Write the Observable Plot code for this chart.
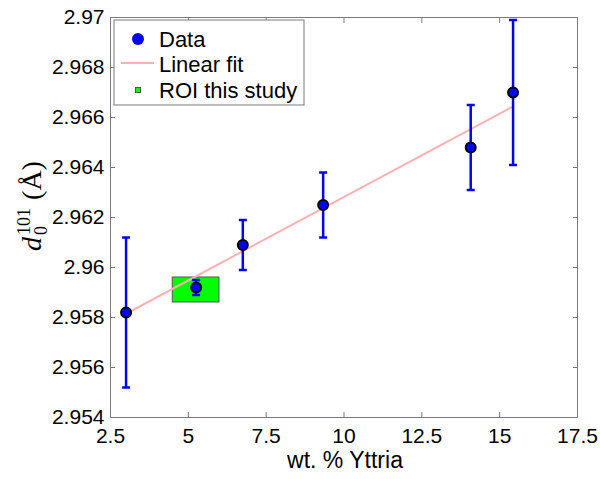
<!DOCTYPE html>
<html>
<head>
<meta charset="utf-8">
<script src="https://cdn.jsdelivr.net/npm/d3@7"></script>
<script src="https://cdn.jsdelivr.net/npm/@observablehq/plot@0.6"></script>
<style>
  html, body { margin: 0; padding: 0; background: white; }
  #chart { width: 600px; height: 479px; }
</style>
</head>
<body>
<div id="chart"></div>
<script>
// ---- data ----
const wtYttria = [3.0, 5.25, 6.75, 9.33, 14.07, 15.43];
const d0 = [2.9582, 2.9592, 2.9609, 2.9625, 2.9648, 2.9670];
const errLow = [2.9552, 2.9589, 2.9599, 2.9612, 2.9631, 2.9641];
const errHigh = [2.9612, 2.9595, 2.9619, 2.9638, 2.9665, 2.9699];
const fitX = [3.0, 15.43];
const fitY = [2.95815, 2.96644];
const roiX = [4.5, 6.0];
const roiY = [2.9586, 2.9596];
const xTicks = [2.5, 5, 7.5, 10, 12.5, 15, 17.5];
const yTicks = [2.954, 2.956, 2.958, 2.96, 2.962, 2.964, 2.966, 2.968, 2.97];
const legendLabels = ["Data", "Linear fit", "ROI this study"];
const xTitle = "wt. % Yttria";

const data = wtYttria.map((x, i) => ({x, y: d0[i], lo: errLow[i], hi: errHigh[i]}));
const fit = fitX.map((x, i) => ({x, y: fitY[i]}));
const roi = [{x1: roiX[0], x2: roiX[1], y1: roiY[0], y2: roiY[1]}];

const capSymbol = {draw(ctx) { ctx.moveTo(-4, 0); ctx.lineTo(4, 0); }};
const sans = "'Liberation Sans', Arial, Helvetica, sans-serif";
const axisGray = "#7a7a7a";

const plot = Plot.plot({
  width: 600,
  height: 479,
  marginLeft: 110,
  marginRight: 23,
  marginTop: 17,
  marginBottom: 62,
  style: {fontFamily: sans, fontSize: "21px", background: "white", color: "black", overflow: "visible"},
  x: {domain: [2.5, 17.5]},
  y: {domain: [2.954, 2.97]},
  marks: [
    Plot.rect(roi, {x1: "x1", x2: "x2", y1: "y1", y2: "y2", fill: "#00ff00", stroke: "#555555", strokeWidth: 1}),
    Plot.line(fit, {x: "x", y: "y", stroke: "#ffb0b0", strokeWidth: 2}),
    Plot.ruleX(data, {x: "x", y1: "lo", y2: "hi", stroke: "#0000ff", strokeWidth: 2.5}),
    Plot.dot(data, {x: "x", y: "lo", symbol: capSymbol, fill: "none", stroke: "#0000ff", strokeWidth: 2.5}),
    Plot.dot(data, {x: "x", y: "hi", symbol: capSymbol, fill: "none", stroke: "#0000ff", strokeWidth: 2.5}),
    Plot.dot(data, {x: "x", y: "y", r: 5, fill: "#0000ff", stroke: "black", strokeWidth: 2}),
    Plot.frame({stroke: axisGray, strokeWidth: 1}),
    Plot.axisX({anchor: "bottom", ticks: xTicks, tickFormat: d => String(d), tickSize: -5, tickPadding: 16, label: null, stroke: axisGray, fill: "black"}),
    Plot.axisX({anchor: "top", ticks: xTicks, tickFormat: () => "", tickSize: -5, label: null, stroke: axisGray}),
    Plot.axisY({anchor: "left", ticks: yTicks, tickFormat: d => d3.format(".3~f")(d), tickSize: -5, tickPadding: 11, label: null, stroke: axisGray, fill: "black"}),
    Plot.axisY({anchor: "right", ticks: yTicks, tickFormat: () => "", tickSize: -5, label: null, stroke: axisGray})
  ]
});

document.getElementById("chart").appendChild(plot);

const svg = d3.select(plot);

// x-axis title
svg.append("text")
  .attr("x", 345).attr("y", 468)
  .attr("text-anchor", "middle")
  .attr("font-family", sans).attr("font-size", 23).attr("fill", "black")
  .text(xTitle);

// y-axis title: d_0^{101} (Å)
const yl = svg.append("text")
  .attr("transform", "translate(41,206) rotate(-90)")
  .attr("text-anchor", "middle")
  .attr("font-family", "'Liberation Serif', 'Times New Roman', serif")
  .attr("font-size", 28).attr("fill", "black");
yl.append("tspan").attr("font-style", "italic").text("d");
yl.append("tspan").attr("font-size", 18).attr("dx", 2).attr("dy", -11).text("101");
yl.append("tspan").attr("font-size", 18).attr("dx", -27).attr("dy", 17).text("0");
yl.append("tspan").attr("dx", 26).attr("dy", -6).text("(Å)");

// legend
const lg = svg.append("g").attr("text-anchor", "start");
lg.append("rect").attr("x", 114).attr("y", 20).attr("width", 190).attr("height", 85)
  .attr("fill", "white").attr("stroke", axisGray).attr("stroke-width", 1);
lg.append("circle").attr("cx", 138).attr("cy", 39).attr("r", 6).attr("fill", "#0000ff");
lg.append("line").attr("x1", 121).attr("x2", 154).attr("y1", 63).attr("y2", 63)
  .attr("stroke", "#ffb0b0").attr("stroke-width", 2);
lg.append("rect").attr("x", 135.5).attr("y", 87.5).attr("width", 5).attr("height", 5)
  .attr("fill", "#00ff00").attr("stroke", "#555555").attr("stroke-width", 1);
legendLabels.forEach((t, i) => {
  lg.append("text").attr("x", 159).attr("y", 39 + i * 25.5)
    .attr("dy", "0.36em")
    .attr("text-anchor", "start")
    .attr("font-family", sans).attr("font-size", 22).attr("fill", "black")
    .text(t);
});
</script>
</body>
</html>
